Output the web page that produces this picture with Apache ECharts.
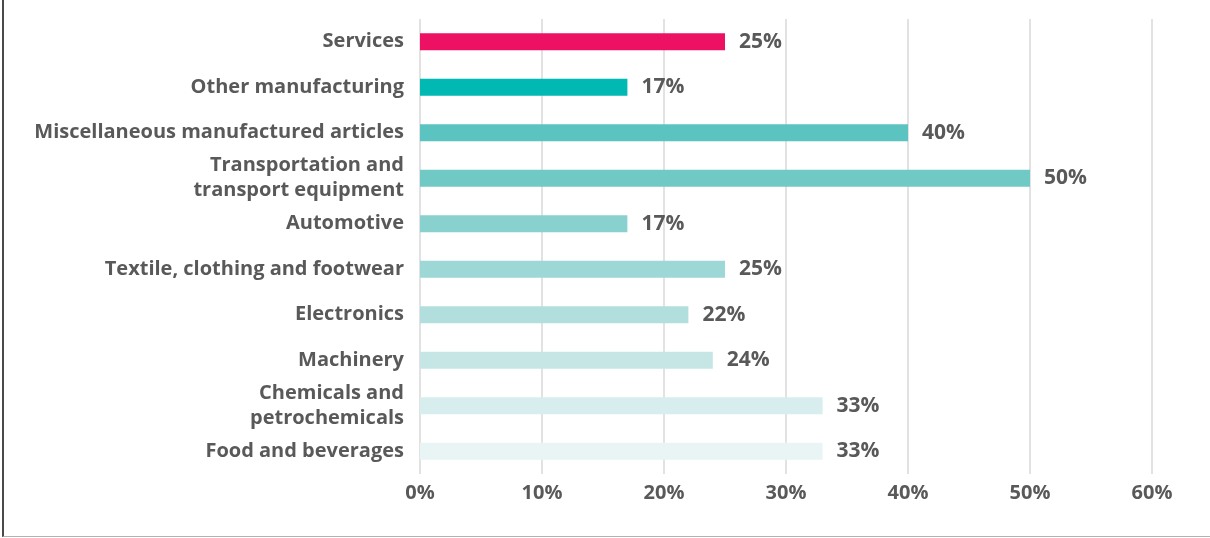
<!DOCTYPE html>
<html>
<head>
<meta charset="utf-8">
<script src="https://cdn.jsdelivr.net/npm/echarts@6/dist/echarts.min.js"></script>
<style>
  html, body { margin: 0; padding: 0; background: #fff; }
  #frame {
    position: absolute; left: 2px; top: 0; width: 1208px; height: 537px;
    border-left: 2px solid #4a4a4a; border-bottom: 1px solid #b3b3b3;
    box-sizing: border-box;
  }
  #chart { position: absolute; left: 0; top: 0; width: 1210px; height: 538px; }
</style>
</head>
<body>
<div id="frame"></div>
<div id="chart"></div>
<script>
// categories, top to bottom
const categories = [
  'Services',
  'Other manufacturing',
  'Miscellaneous manufactured articles',
  'Transportation and\ntransport equipment',
  'Automotive',
  'Textile, clothing and footwear',
  'Electronics',
  'Machinery',
  'Chemicals and\npetrochemicals',
  'Food and beverages'
]
const values = [25, 17, 40, 50, 17, 25, 22, 24, 33, 33]
const barColors = [
  '#ed1164', '#00b9b2', '#5cc4c0', '#71c9c6', '#89d1ce',
  '#9dd8d6', '#b2dfdd', '#c6e6e5', '#d8eeee', '#e9f5f5'
]
const tickValues = [0, 10, 20, 30, 40, 50, 60]

const textColor = '#595959'
const font = '"Open Sans", "Noto Sans", sans-serif'

const chart = echarts.init(document.getElementById('chart'))

chart.setOption({
  animation: false,
  grid: { left: 420, right: 58, top: 19, bottom: 64, containLabel: false },
  xAxis: {
    type: 'value',
    min: tickValues[0],
    max: tickValues[tickValues.length - 1],
    interval: 10,
    axisLine: { show: false },
    axisTick: { show: false },
    splitLine: { lineStyle: { color: '#d9d9d9', width: 1.5 } },
    axisLabel: {
      formatter: '{value}%',
      color: textColor,
      fontFamily: font,
      fontWeight: 700,
      fontSize: 20,
      margin: 9
    }
  },
  yAxis: {
    type: 'category',
    inverse: true,
    data: categories,
    axisLine: { show: false },
    axisTick: { show: false },
    axisLabel: {
      color: textColor,
      fontFamily: font,
      fontWeight: 700,
      fontSize: 20,
      lineHeight: 25,
      align: 'right',
      margin: 16
    }
  },
  series: [
    {
      type: 'bar',
      barWidth: 17,
      data: values.map((v, i) => ({ value: v, itemStyle: { color: barColors[i] } })),
      label: {
        show: true,
        position: 'right',
        distance: 14,
        formatter: '{c}%',
        color: textColor,
        fontFamily: font,
        fontWeight: 700,
        fontSize: 21
      }
    }
  ]
})
</script>
</body>
</html>
